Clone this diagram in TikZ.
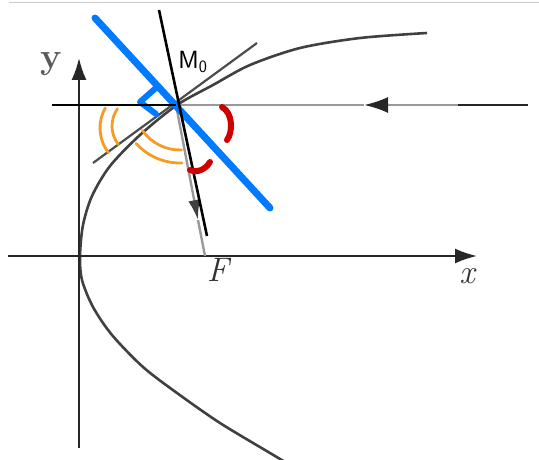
\documentclass[tikz,border=0pt]{standalone}
\usepackage{amsmath}
\usepackage{tikz}
\usetikzlibrary{arrows}
\usetikzlibrary{arrows.meta}
\definecolor{penblue}{RGB}{0,122,255}
\definecolor{penred}{RGB}{208,0,0}
\definecolor{penorange}{RGB}{246,156,36}
\tikzset{
  axis_line/.style = {draw=black!85, line width=2pt},
  curve_line/.style = {draw=black!75, line width=2.6pt},
  ray_line/.style = {draw=black!40, line width=2.4pt},
  pen_black/.style = {draw=black, line width=2.6pt},% trait a la main, noir
  pen_blue/.style = {draw=penblue, line width=7pt, line cap=round},% trait a la main, bleu
  pen_orange/.style = {draw=penorange, line width=2.8pt, line cap=round},% arcs orange
  pen_red/.style = {draw=penred, line width=6pt, line cap=round},% arcs rouges
  book_label/.style = {inner sep=0pt, font=\fontsize{34}{40}\selectfont}
}
\begin{document}
\begin{tikzpicture}[x=1pt, y=-1pt]
      \useasboundingbox (0,0) rectangle (539,460);
      \draw[black!20, line width=1pt] (9,3) -- (539,3);
      % points
      \coordinate (O) at (79,256);
      \coordinate (M0) at (176,105);
      \coordinate (F) at (205,256);
      % parabole
      \draw[curve_line] plot[smooth] coordinates {(427,33) (360,38) (300,48)
        (250,65) (213,85) (177,105) (140,135) (110,166) (92,196) (83,225)
        (80,256) (82,280) (93,307) (112,335) (143,367) (177,393) (220,423)
        (270,453) (285,462)};
      % axes
      \coordinate (x_start) at (8,256);
      \coordinate (x_end) at (477,256);
      \coordinate (y_start) at (79,448);
      \coordinate (y_end) at (79,58);
      \draw[axis_line, -{Latex[length=22pt,width=15pt]}] (x_start) -- (x_end);
      \draw[axis_line, -{Latex[length=22pt,width=15pt]}] (y_start) -- (y_end);
      \node[book_label, black!65, font=\fontsize{36}{40}\selectfont\bfseries] (y_lab) at (51,64) {y};
      \node[book_label, black!80] (x_lab) at (468,276) {\textit{x}};
      \node[book_label, black!80] (F_lab) at (219,270) {\textit{F}};
      % tangente
      \coordinate (tan_a) at (93,163);
      \coordinate (tan_b) at (257,43);
      \draw[draw=black!70, line width=2.2pt] (tan_a) -- (tan_b);
      % rayon incident et rayon reflechi
      \coordinate (ray_end) at (528,105);
      \coordinate (ray_dark) at (458,105);
      \coordinate (ray_tip) at (364,105);
      \coordinate (down_tip) at (198,220);
      \draw[draw=black!85, line width=2.4pt] (ray_end) -- (ray_dark);
      \draw[ray_line, -{Latex[length=24pt,width=16pt,color=black!85]}] (ray_dark) -- (ray_tip);
      \draw[ray_line] (ray_tip) -- (M0);
      \draw[ray_line, -{Latex[length=20pt,width=12pt,color=black!75]}] (M0) -- (down_tip);
      \draw[ray_line] (down_tip) -- (F);
      % annotations
      \coordinate (blue_a) at (95,18);
      \coordinate (blue_b) at (270,208);
      \draw[pen_blue] (blue_a) -- (blue_b);
      \draw[pen_blue, line width=6pt, line join=round] (157,87) -- (140,102) -- (156,114);
      \coordinate (norm_a) at (159,10);
      \coordinate (norm_b) at (207,236);
      \draw[pen_black] (norm_a) -- (norm_b);
      \coordinate (hor_a) at (52,105);
      \draw[pen_black] (hor_a) -- (M0);
      \node[inner sep=0pt, font=\fontsize{24}{26}\selectfont] (m0_lab) at (193,62) {$\mathsf{M_0}$};
      \draw[pen_orange] (140,128) ++(142:40) arc[start angle=142, end angle=210, radius=40];
      \draw[pen_orange] (142,126) ++(142:30) arc[start angle=142, end angle=215, radius=30];
      \draw[pen_orange] (180,104) ++(145:46) arc[start angle=145, end angle=88, radius=46];
      \draw[pen_orange] (180,104) ++(138:59) arc[start angle=138, end angle=88, radius=59];
      \draw[pen_red] (222,107) .. controls (233,113) and (233,132) .. (227,140);
      \draw[pen_red] (190,170) .. controls (197,173) and (205,170) .. (210,162);
\end{tikzpicture}
\end{document}
